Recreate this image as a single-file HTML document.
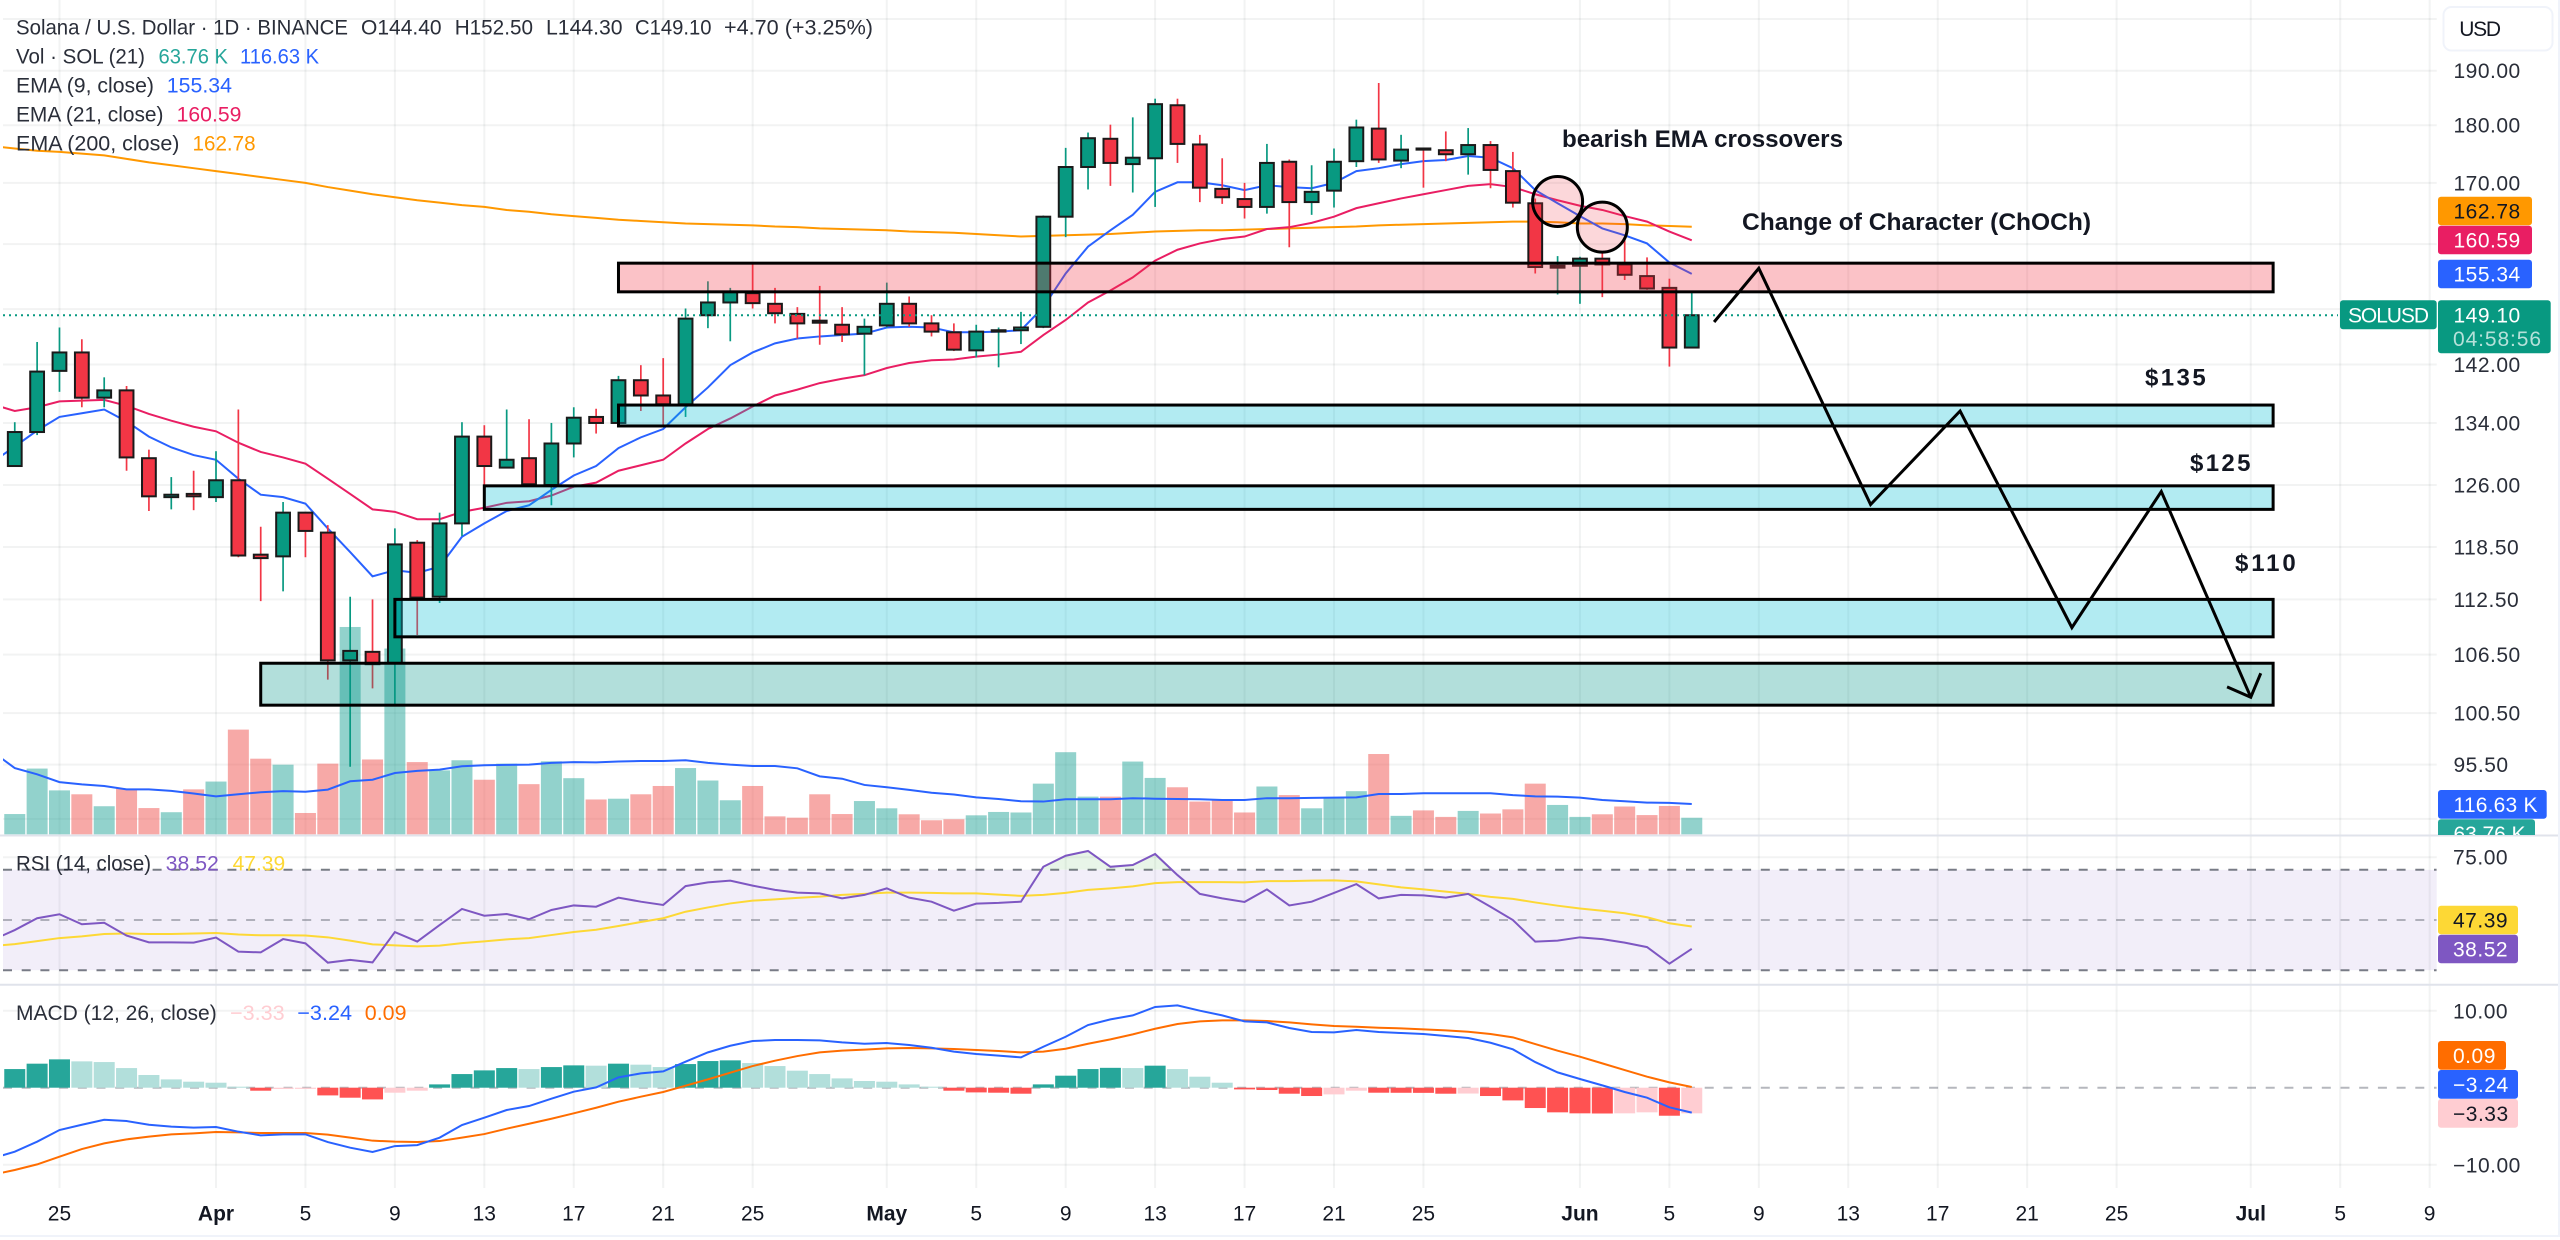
<!DOCTYPE html>
<html lang="en">
<head>
<meta charset="utf-8">
<title>Solana / U.S. Dollar chart</title>
<style>
html,body{margin:0;padding:0;background:#fff;width:2560px;height:1240px;overflow:hidden}
svg{display:block;font-family:"Liberation Sans",sans-serif}
.lg{font-size:21px;fill:#2a2e39}
.ax{font-size:21px;fill:#2a2e39;letter-spacing:.5px}
.anno{font-size:24px;font-weight:700;fill:#131722}
</style>
</head>
<body>
<svg id="chart" xmlns="http://www.w3.org/2000/svg" width="2560" height="1240" viewBox="0 0 2560 1240">
  <defs>
    <clipPath id="clip-main"><rect x="3" y="0" width="2433.7" height="835"/></clipPath>
    <clipPath id="clip-rsi"><rect x="3" y="836" width="2433.7" height="148"/></clipPath>
    <clipPath id="clip-rsi-ob"><rect x="3" y="836" width="2433.7" height="33.7"/></clipPath>
    <clipPath id="clip-macd"><rect x="3" y="985" width="2433.7" height="203"/></clipPath>
    <clipPath id="clip-badge"><rect x="2430" y="780" width="130" height="55"/></clipPath>
  </defs>
  <g id="grid"></g>
  <g id="rsi-band"></g>
  <g id="volume" clip-path="url(#clip-main)"></g>
  <g id="lines" clip-path="url(#clip-main)"></g>
  <g id="candles" clip-path="url(#clip-main)"></g>
  <line id="last-line" x1="3" x2="2338" stroke="#089981" stroke-width="2" stroke-dasharray="2 4"></line>
  <g id="drawings"></g>
  <g id="rsi-pane" clip-path="url(#clip-rsi)"></g>
  <g id="macd-pane" clip-path="url(#clip-macd)"></g>

  <text class="anno" x="1562" y="147" textLength="281" lengthAdjust="spacingAndGlyphs">bearish EMA crossovers</text>
  <text class="anno" x="1742" y="230" textLength="349" lengthAdjust="spacingAndGlyphs">Change of Character (ChOCh)</text>
  <text class="anno" x="2145" y="385.500" textLength="60.700">$135</text>
  <text class="anno" x="2190" y="471" textLength="60.500">$125</text>
  <text class="anno" x="2235" y="571" textLength="60.700">$110</text>

  <g>
    <text class="lg" x="16" y="34.500" textLength="332" lengthAdjust="spacingAndGlyphs">Solana / U.S. Dollar · 1D · BINANCE</text>
    <text class="lg" x="361" y="34.500" textLength="80.600" lengthAdjust="spacingAndGlyphs">O144.40</text>
    <text class="lg" x="454.700" y="34.500" textLength="78.300" lengthAdjust="spacingAndGlyphs">H152.50</text>
    <text class="lg" x="546" y="34.500" textLength="76.600" lengthAdjust="spacingAndGlyphs">L144.30</text>
    <text class="lg" x="635" y="34.500" textLength="76.500" lengthAdjust="spacingAndGlyphs">C149.10</text>
    <text class="lg" x="724" y="34.500" textLength="149" lengthAdjust="spacingAndGlyphs">+4.70 (+3.25%)</text>
    <text class="lg" x="16" y="63.500" textLength="129" lengthAdjust="spacingAndGlyphs">Vol · SOL (21)</text>
    <text class="lg" x="158.500" y="63.500" textLength="69.500" lengthAdjust="spacingAndGlyphs" style="fill:#26a69a">63.76 K</text>
    <text class="lg" x="240" y="63.500" textLength="79" lengthAdjust="spacingAndGlyphs" style="fill:#2962ff">116.63 K</text>
    <text class="lg" x="16" y="92.500" textLength="138" lengthAdjust="spacingAndGlyphs">EMA (9, close)</text>
    <text class="lg" x="166.800" y="92.500" textLength="65.200" lengthAdjust="spacingAndGlyphs" style="fill:#2962ff">155.34</text>
    <text class="lg" x="16" y="121.500" textLength="147.500" lengthAdjust="spacingAndGlyphs">EMA (21, close)</text>
    <text class="lg" x="176.600" y="121.500" textLength="64.800" lengthAdjust="spacingAndGlyphs" style="fill:#e91e63">160.59</text>
    <text class="lg" x="16" y="150.500" textLength="163.400" lengthAdjust="spacingAndGlyphs">EMA (200, close)</text>
    <text class="lg" x="192.500" y="150.500" textLength="63.100" lengthAdjust="spacingAndGlyphs" style="fill:#ff9800">162.78</text>
  </g>
  <g>
    <text class="lg" x="16" y="870.500" textLength="135" lengthAdjust="spacingAndGlyphs">RSI (14, close)</text>
    <text class="lg" x="165.700" y="870.500" textLength="53.200" lengthAdjust="spacingAndGlyphs" style="fill:#7e57c2">38.52</text>
    <text class="lg" x="232.600" y="870.500" textLength="52.600" lengthAdjust="spacingAndGlyphs" style="fill:#fdd835">47.39</text>
  </g>
  <g>
    <text class="lg" x="16" y="1020" textLength="200.700" lengthAdjust="spacingAndGlyphs">MACD (12, 26, close)</text>
    <text class="lg" x="230" y="1020" textLength="54.700" lengthAdjust="spacingAndGlyphs" style="fill:#ffcdd2">−3.33</text>
    <text class="lg" x="297.300" y="1020" textLength="54.700" lengthAdjust="spacingAndGlyphs" style="fill:#2962ff">−3.24</text>
    <text class="lg" x="364.800" y="1020" textLength="41.700" lengthAdjust="spacingAndGlyphs" style="fill:#ff6d00">0.09</text>
  </g>

  <g id="axis-labels"></g>

  <rect x="2443.500" y="7" width="109" height="43.500" rx="8" fill="#fff" stroke="#f0f3fa" stroke-width="2"></rect>
  <text x="2459.300" y="36" font-size="21" fill="#131722" textLength="41.700">USD</text>

  <g>
    <rect x="2438" y="196.700" width="94" height="28.600" rx="3" fill="#ff9800"></rect>
    <text class="ax" x="2453.500" y="218.500" style="fill:#131722">162.78</text>
    <rect x="2438" y="225.700" width="94" height="28.600" rx="3" fill="#e91e63"></rect>
    <text class="ax" x="2453.500" y="247.500" style="fill:#fff">160.59</text>
    <rect x="2438" y="259.700" width="94" height="28.600" rx="3" fill="#2962ff"></rect>
    <text class="ax" x="2453.500" y="281.500" style="fill:#fff">155.34</text>
    <rect x="2340" y="300.300" width="96.700" height="29" rx="3" fill="#089981"></rect>
    <text class="ax" x="2348" y="322.300" textLength="81" style="fill:#fff;letter-spacing:0">SOLUSD</text>
    <rect x="2438" y="300.300" width="112.700" height="53" rx="3" fill="#089981"></rect>
    <text class="ax" x="2453.500" y="322.300" style="fill:#fff">149.10</text>
    <text class="ax" x="2453" y="345.800" textLength="88" style="fill:#fff;fill-opacity:.7;letter-spacing:0">04:58:56</text>
    <rect x="2438" y="790" width="108.700" height="28.700" rx="3" fill="#2962ff"></rect>
    <text class="ax" x="2453.500" y="811.800" textLength="84" style="fill:#fff;letter-spacing:0">116.63 K</text>
    <g clip-path="url(#clip-badge)">
      <rect x="2438" y="819.300" width="97" height="28.700" rx="3" fill="#26a69a"></rect>
      <text class="ax" x="2453.500" y="841" textLength="72" style="fill:#fff;letter-spacing:0">63.76 K</text>
    </g>
    <rect x="2438" y="905.700" width="80" height="28.600" rx="3" fill="#fdd835"></rect>
    <text class="ax" x="2453" y="927.500" style="fill:#131722">47.39</text>
    <rect x="2438" y="934.700" width="80" height="28.600" rx="3" fill="#7e57c2"></rect>
    <text class="ax" x="2453" y="956.500" style="fill:#fff">38.52</text>
    <rect x="2438" y="1041" width="68" height="28.700" rx="3" fill="#ff6d00"></rect>
    <text class="ax" x="2453" y="1062.800" style="fill:#fff">0.09</text>
    <rect x="2438" y="1070" width="80" height="28.700" rx="3" fill="#2962ff"></rect>
    <text class="ax" x="2453" y="1091.800" style="fill:#fff">−3.24</text>
    <rect x="2438" y="1099" width="80" height="28.700" rx="3" fill="#ffcdd2"></rect>
    <text class="ax" x="2453" y="1120.800" style="fill:#131722">−3.33</text>
  </g>
</svg>
<script>
// ---- day offsets from 1 April; first candle is 23 March ----
var firstCandleDay = -9;
var firstLineDay = -10;

// ---- OHLC ----
var opens = [128.4,132.8,141.1,143.7,137.4,138.4,129.4,124.5,124.9,124.5,
126.6,117.6,117.4,122.6,120.2,105.9,106.8,105.6,119,112.8,
121.3,132.2,128.2,129.4,126,131.3,134.8,134,139.8,137.7,
136.5,149.1,151,152.4,150.8,149.3,148.3,147.7,146.4,147.6,
150.8,147.9,146.6,144,146.7,146.9,147.4,164.4,172.7,177.6,
173.2,174.2,183.6,176.6,169,167.3,166,173.6,166.8,168.7,
173.7,179.4,173.8,175.9,175.6,174.9,176.5,172,166.6,156.3,
156.6,157.7,156.8,155,153.2,144.4];
var highs = [134.1,145.2,147.3,145.6,140.2,139,130.5,127,127.8,130.3,
135.8,120.9,123.9,122.7,121.1,112.8,112.5,120.7,119.3,122.6,
134.1,133.7,135.8,134.5,134,136.1,135.9,140.4,141.9,142.9,
150.1,154.2,153.2,156.9,153.2,150.3,153.5,150.3,148.6,154,
151.9,149.1,147.9,147.7,147.3,149.6,164.6,176,178.7,180.1,
181.4,184.8,184.8,178.3,174.2,170,176.7,174,173,175.9,
181,187.7,178.3,176,178.9,179.5,177.2,175.3,167.4,158.1,
158,158.8,160.8,157.9,154.6,152.5];
var lows = [128.3,132.4,138.2,136.1,136.1,127.8,122.8,123,122.9,123.9,
117.3,112.3,113.4,117.3,103.9,95.3,103,101.4,108.6,112.1,
119.8,126,128.2,125.9,123.5,129.5,132.6,133.6,135.6,133.7,
134.8,147.2,145.3,150.1,147.9,145.7,144.8,145.2,140.5,147.3,
147.4,146,143.9,143,141.6,144.9,147.2,161.1,168.9,169.5,
168.4,166,173.4,166.8,166.5,164.1,164.9,159.5,164.7,165.9,
172.7,173.4,172.5,169.2,173.7,171.4,169.1,165.9,155.4,152.2,
150.8,151.8,154.4,152.9,141.7,144.3];
var closes = [132.8,141,143.7,137.4,138.4,129.5,124.6,124.8,124.6,126.6,
117.5,117.2,122.6,120.4,105.9,106.9,105.5,118.8,112.7,121.3,
132.2,128.4,129.2,126.1,131.3,134.7,134,139.8,137.7,136.5,
148.6,151,152.6,150.9,149.4,147.9,148,146.3,147.4,150.8,
147.9,146.7,144.1,146.7,146.9,147.3,164.4,172.7,177.7,173.4,
174.3,183.8,176.7,169.2,167.6,166,173.4,166.8,168.5,173.6,
179.6,174,175.7,175.7,174.9,176.5,172.2,166.7,156.4,156.6,
157.7,156.8,155.2,153.1,144.4,149.1];

// ---- EMAs ----
var ema9 = [128.9,130.9,133.0,134.8,135.3,135.8,134.2,132.2,130.8,129.8,129.2,
126.8,124.8,124.5,123.7,120.7,117.9,115.1,115.8,115.5,116.2,
119.7,121.3,122.8,123.5,125.4,127.2,128.4,130.7,132.1,133.2,
136.1,138.8,141.9,143.7,145,145.7,146,146.2,146.4,147.3,
147.4,147.3,146.6,146.6,146.7,146.9,150.3,155.4,159.6,162.2,
164.7,168.5,170.1,170.1,169.6,168.8,169.6,169.3,169.1,170,
172,172.5,173.2,173.7,173.9,174.6,174.3,172.5,168.8,166.6,
164.5,162.5,161.4,160.1,157.1,155.34];
var ema21 = [136.5,135.6,136.1,136.9,137,137.1,136.3,135.2,134.3,133.5,132.9,
131.4,130.2,129.5,128.7,126.8,124.9,123,122.7,121.8,121.8,
122.7,123.2,123.8,124,124.7,125.8,126.3,127.8,128.5,129.2,
131.3,133.2,134.6,136.2,137.7,138.5,139.4,140,140.5,141.5,
142.2,142.6,142.7,143.1,143.4,143.8,146.2,148.4,151,152.8,
154.8,157.4,159.1,160.1,160.8,161.2,162.4,162.7,163.4,164.4,
165.8,166.6,167.4,168.1,168.8,169.5,169.8,169.3,168.1,167.1,
166.2,165.5,164.5,163.6,162,160.59];
var ema200 = [176.3,175.9,175.5,175.3,175,174.7,174.1,173.5,173,172.5,172,
171.5,171,170.5,170,169.3,168.7,168.1,167.6,167.1,166.7,
166.3,166,165.5,165.2,164.8,164.5,164.2,163.9,163.7,163.5,
163.3,163.2,163.1,163,162.8,162.7,162.5,162.4,162.3,162.2,
162,161.9,161.8,161.6,161.4,161.2,161.3,161.4,161.5,161.6,
161.8,162,162.1,162.2,162.2,162.3,162.4,162.5,162.6,162.7,
162.8,163,163.1,163.2,163.3,163.4,163.5,163.6,163.6,163.5,
163.3,163.3,163.2,163,162.9,162.78];

// ---- Volume (thousands) ----
var volumes = [78,253,169,154,108,176,101,85,173,203,
403,291,268,82,272,798,288,715,278,246,
285,210,272,193,281,216,134,137,154,186,
255,207,131,186,69,64,154,78,128,100,
77,54,58,73,86,84,195,316,145,145,
280,217,181,126,132,84,184,151,100,141,
166,309,71,92,67,90,80,96,195,113,
67,77,107,74,109,63.76];
var volumeMa = [318,255,231,201,192,186,173,173,167,157,146,
154,162,166,164,172,204,210,236,244,249,
262,266,267,268,275,278,277,280,282,282,
285,275,268,263,263,254,223,214,190,181,
171,160,153,142,136,127,126,135,135,135,
139,137,136,135,132,132,139,139,140,141,
142,155,155,158,158,158,158,151,146,145,
141,132,127,122,121,116.63];

// ---- RSI ----
var rsiValues = [42.0,46.0,50.7,52.3,48.3,48.9,43.8,41.1,41.1,41.0,43.0,
37.4,37.1,42.4,40.7,33.0,34.1,33.1,45.2,41.4,48.0,
54.4,51.7,52.4,50.3,54.0,55.8,55.3,58.9,57.3,56.0,
63.5,65.0,65.7,63.7,62.0,60.9,60.6,58.6,60.0,62.6,
58.9,57.3,53.7,56.5,56.8,57.3,71.2,75.6,77.5,71.2,
71.9,76.3,67.9,60.4,58.6,57.2,62.2,55.8,57.3,60.8,
64.3,58.6,60.0,59.8,58.9,60.4,55.3,50.0,41.4,41.8,
43.1,42.4,41.0,39.2,32.6,38.52];
var rsiMa = [39.6,40.4,41.6,42.8,43.5,44.4,44.6,44.4,44.4,44.6,44.8,
44.2,43.9,43.9,43.8,43.1,41.8,40.3,39.9,39.5,39.8,
40.8,41.5,42.3,42.8,44.0,45.2,46.1,47.6,49.2,50.7,
53.3,55.0,56.6,57.7,58.2,58.8,59.3,60.0,60.4,60.9,
60.9,60.8,60.6,60.6,60.1,59.6,60.0,60.8,62.0,62.6,
63.4,64.7,65.1,65.1,65.1,65.0,65.5,65.5,65.7,65.8,
65.4,64.2,63.0,62.2,61.3,60.4,59.2,58.4,57.0,55.7,
54.6,53.7,52.7,51.1,48.7,47.39];

// ---- MACD ----
var macdLine = [-9.18,-8.31,-7.01,-5.5,-4.81,-4.16,-4.33,-4.81,-5.06,-5.19,-5.11,
-5.71,-6.19,-6.06,-6.06,-7.06,-7.79,-8.35,-7.58,-7.45,-6.49,
-4.85,-3.9,-2.9,-2.38,-1.43,-.52,.04,1.34,1.86,2.12,
3.38,4.59,5.45,6.06,6.19,6.19,6.15,5.89,5.71,5.8,
5.54,5.19,4.68,4.37,4.16,3.94,5.32,6.62,8.14,8.87,
9.39,10.48,10.69,10.0,9.39,8.61,8.48,7.75,7.23,7.19,
7.49,7.23,7.1,6.97,6.71,6.45,5.84,4.98,3.33,1.99,
1.13,.3,-.56,-1.3,-2.55,-3.24];
var macdSignal = [-11.3,-10.69,-9.96,-8.96,-7.97,-7.23,-6.71,-6.36,-6.06,-5.93,-5.76,
-5.8,-5.89,-5.89,-5.89,-6.1,-6.49,-6.88,-7.01,-7.06,-6.93,
-6.49,-6.02,-5.32,-4.68,-4.03,-3.33,-2.6,-1.82,-1.17,-.56,
.26,1.08,1.95,2.81,3.51,4.11,4.59,4.81,4.94,5.11,
5.15,5.11,5.02,4.89,4.76,4.59,4.68,5.06,5.71,6.28,
6.93,7.66,8.27,8.61,8.74,8.74,8.66,8.48,8.23,8.01,
7.92,7.79,7.71,7.58,7.45,7.27,6.97,6.54,5.67,4.81,
4.03,3.16,2.29,1.43,.69,.09];
var macdHist = [2.42,3.12,3.68,3.42,3.33,2.55,1.65,1.08,.78,.65,
.13,-.39,-.17,-.15,-1.0,-1.3,-1.52,-.65,-.39,.43,
1.77,2.25,2.55,2.42,2.68,2.9,2.86,3.12,2.99,2.68,
3.07,3.46,3.55,3.2,2.81,2.21,1.77,1.21,.87,.78,
.43,.13,-.39,-.61,-.65,-.78,.43,1.56,2.42,2.58,
2.55,2.86,2.42,1.43,.65,-.22,-.3,-.78,-1.08,-.87,
-.39,-.65,-.66,-.67,-.78,-.76,-1.08,-1.65,-2.64,-3.2,
-3.33,-3.35,-3.33,-3.2,-3.64,-3.33];

// ---- Ticks ----
var dayTicks = [-7,0,4,8,12,16,20,24,30,34,38,42,46,50,54,61,65,69,73,77,81,85,91,95,99];
var dayLabels = ['25','Apr','5','9','13','17','21','25','May','5','9','13','17','21','25','Jun','5','9','13','17','21','25','Jul','5','9'];
var priceGrid = [200,190,180,170,160,150,142,134,126,118.5,112.5,106.5,100.5,95.5,90.5];
var priceTicks = [190,180,170,142,134,126,118.5,112.5,106.5,100.5,95.5];
var rsiTicks = [75];
var macdTicks = [10,-10];
var lastPrice = 149.10;

// ---- Drawings in chart units: start day, end day, top price, bottom price ----
var zoneStarts = [18,18,12,8,2];
var zoneEnds = [92,92,92,92,92];
var zoneTops = [157.0,136.4,125.9,112.5,105.6];
var zoneBottoms = [152.6,133.6,123.0,108.4,101.3];
var zoneFills = ['rgba(242,54,69,.3)','rgba(0,188,212,.3)','rgba(0,188,212,.3)','rgba(0,188,212,.3)','rgba(0,150,136,.3)'];
var zoneNames = ['resistance-zone','support-zone-135','support-zone-125','support-zone-110','demand-zone-100'];
var pathDays = [67,69,74,78,83,87,91];
var pathPrices = [148.1,156.2,123.6,135.6,109.4,125.2,102.1];
var crossDays = [60,62];
var crossPrices = [166.9,162.7];

// ---- Axis functions ----
function xDay(d){return 216+22.36*d;}
function yPrice(p){return 70.7+1008.8*Math.log(190/p);}
function yVol(v){return 834.3-v/3.849;}
function yRsi(v){return 920-(v-50)*2.51;}
function yMacd(v){return 1087.7-v*7.7;}

var NS='http://www.w3.org/2000/svg';
function mk(tag,attrs,parent){
  var el=document.createElementNS(NS,tag);
  for(var k in attrs){el.setAttribute(k,attrs[k]);}
  parent.appendChild(el);
  return el;
}
function linePath(values,yFn){
  var d='';
  for(var i=0;i<values.length;i++){
    d+=(i?'L':'M')+xDay(firstLineDay+i).toFixed(2)+' '+yFn(values[i]).toFixed(2);
  }
  return d;
}

var gridG=document.getElementById('grid');
var GRID='rgba(42,46,57,.06)';
dayTicks.forEach(function(d){
  var l=mk('line',{x1:xDay(d),x2:xDay(d),y1:0,y2:1188,stroke:GRID,'stroke-width':2},gridG);
  
  
});
priceGrid.forEach(function(p){
  var l=mk('line',{x1:3,x2:2436.7,y1:yPrice(p),y2:yPrice(p),stroke:GRID,'stroke-width':2},gridG);
  
  
});
rsiTicks.forEach(function(v){
  var l=mk('line',{x1:3,x2:2436.7,y1:yRsi(v),y2:yRsi(v),stroke:GRID,'stroke-width':2},gridG);
  
  
});
macdTicks.forEach(function(v){
  var l=mk('line',{x1:3,x2:2436.7,y1:yMacd(v),y2:yMacd(v),stroke:GRID,'stroke-width':2},gridG);
  
  
});
[835.5,984.7].forEach(function(y){
  var l=mk('line',{x1:0,x2:2560,y1:y,y2:y,stroke:'#e0e3eb','stroke-width':2},gridG);
  
  
});
var frameB=mk('line',{x1:0,x2:2560,y1:1236,y2:1236,stroke:'#f0f3fa','stroke-width':2},gridG);


var frameR=mk('line',{x1:2559,x2:2559,y1:0,y2:1236,stroke:'#f0f3fa','stroke-width':2},gridG);



// RSI band
var bandG=document.getElementById('rsi-band');
var band=mk('rect',{x:3,y:yRsi(70),width:2433.7,height:yRsi(30)-yRsi(70),fill:'rgba(126,87,194,.1)'},bandG);



// Volume
var volG=document.getElementById('volume');
volumes.forEach(function(v,i){
  var d=firstCandleDay+i;
  var up=closes[i]>=opens[i];
  var r=mk('rect',{x:xDay(d)-10.5,y:yVol(v),width:21,height:834.3-yVol(v),fill:up?'rgba(38,166,154,.5)':'rgba(239,83,80,.5)'},volG);
  
  
});

// Overlays beneath the candles
var linesG=document.getElementById('lines');
var volMaLine=mk('path',{d:linePath(volumeMa,yVol),fill:'none',stroke:'#2962ff','stroke-width':2},linesG);


var ema200Line=mk('path',{d:linePath(ema200,yPrice),fill:'none',stroke:'#ff9800','stroke-width':2},linesG);


var ema21Line=mk('path',{d:linePath(ema21,yPrice),fill:'none',stroke:'#e91e63','stroke-width':2},linesG);


var ema9Line=mk('path',{d:linePath(ema9,yPrice),fill:'none',stroke:'#2962ff','stroke-width':2},linesG);



// Candles
var cG=document.getElementById('candles');
opens.forEach(function(o,i){
  var d=firstCandleDay+i, c=closes[i], up=c>=o, col=up?'#089981':'#f23645', x=xDay(d);
  var wick=mk('line',{x1:x,x2:x,y1:yPrice(highs[i]),y2:yPrice(lows[i]),stroke:col,'stroke-width':1.7},cG);
  
  
  var top=yPrice(Math.max(o,c)), bot=yPrice(Math.min(o,c));
  var body=mk('rect',{x:x-6.9,y:top,width:13.8,height:Math.max(bot-top,.5),fill:col,stroke:'#1a1a1a','stroke-width':2},cG);
  
  
});

var lastLine=document.getElementById('last-line');
lastLine.setAttribute('y1',yPrice(lastPrice));
lastLine.setAttribute('y2',yPrice(lastPrice));

// Drawings
var drawG=document.getElementById('drawings');
zoneStarts.forEach(function(s,i){
  var y1=yPrice(zoneTops[i]), y2=yPrice(zoneBottoms[i]);
  var r=mk('rect',{x:xDay(s),y:y1,width:xDay(zoneEnds[i])-xDay(s),height:y2-y1,fill:zoneFills[i],stroke:'#000','stroke-width':3},drawG);
  
  
});
crossDays.forEach(function(d,i){
  var c=mk('ellipse',{cx:xDay(d),cy:yPrice(crossPrices[i]),rx:25,ry:25,fill:'rgba(242,54,69,.2)',stroke:'#000','stroke-width':3},drawG);
  
  
});
var pts=pathDays.map(function(d,i){return xDay(d).toFixed(1)+','+yPrice(pathPrices[i]).toFixed(1);}).join(' ');
var arrow=mk('polyline',{points:pts,fill:'none',stroke:'#000','stroke-width':3,'stroke-linejoin':'miter'},drawG);


var tipX=xDay(pathDays[pathDays.length-1]), tipY=yPrice(pathPrices[pathPrices.length-1]);
var head=mk('polyline',{points:(tipX-23.7)+','+(tipY-10.3)+' '+tipX+','+tipY+' '+(tipX+10)+','+(tipY-24),fill:'none',stroke:'#000','stroke-width':3},drawG);



// RSI pane
var rsiG=document.getElementById('rsi-pane');
[[70,'#787b86',1],[50,'#787b86',.55],[30,'#787b86',1]].forEach(function(b){
  var l=mk('line',{x1:3,x2:2436.7,y1:yRsi(b[0]),y2:yRsi(b[0]),stroke:b[1],'stroke-opacity':b[2],'stroke-width':2,'stroke-dasharray':'9 9.7'},rsiG);
  
  
});
var obD=linePath(rsiValues,yRsi)+'L'+xDay(firstLineDay+rsiValues.length-1)+' '+yRsi(70)+'L'+xDay(firstLineDay)+' '+yRsi(70)+'Z';
var ob=mk('path',{d:obD,fill:'rgba(76,175,80,.13)','clip-path':'url(#clip-rsi-ob)'},rsiG);


var rsiMaLine=mk('path',{d:linePath(rsiMa,yRsi),fill:'none',stroke:'#fdd835','stroke-width':2},rsiG);


var rsiLine=mk('path',{d:linePath(rsiValues,yRsi),fill:'none',stroke:'#7e57c2','stroke-width':2},rsiG);



// MACD pane
var mG=document.getElementById('macd-pane');
var zero=mk('line',{x1:3,x2:2436.7,y1:yMacd(0),y2:yMacd(0),stroke:'#787b86','stroke-opacity':.55,'stroke-width':2,'stroke-dasharray':'9 9.7'},mG);


macdHist.forEach(function(v,i){
  var d=firstCandleDay+i;
  var rising=i===0||v>macdHist[i-1];
  var col=v>=0?(rising?'#26a69a':'#b2dfdb'):(rising?'#ffcdd2':'#ff5252');
  var y1=Math.min(yMacd(v),yMacd(0)), y2=Math.max(yMacd(v),yMacd(0));
  var r=mk('rect',{x:xDay(d)-10.5,y:y1,width:21,height:y2-y1,fill:col},mG);
  
  
});
var sigLine=mk('path',{d:linePath(macdSignal,yMacd),fill:'none',stroke:'#ff6d00','stroke-width':2},mG);


var macLine=mk('path',{d:linePath(macdLine,yMacd),fill:'none',stroke:'#2962ff','stroke-width':2},mG);



// Axis labels
var axG=document.getElementById('axis-labels');
function fmtTick(v){return (v<0?'\u2212':'')+Math.abs(v).toFixed(2);}
priceTicks.forEach(function(p){
  var t=mk('text',{x:2453.5,y:yPrice(p)+7.4,'class':'ax'},axG);
  
  
  t.textContent=fmtTick(p);
});
rsiTicks.forEach(function(v){
  var t=mk('text',{x:2453,y:yRsi(v)+7.4,'class':'ax'},axG);
  
  
  t.textContent=fmtTick(v);
});
macdTicks.forEach(function(v){
  var t=mk('text',{x:2453,y:yMacd(v)+7.8,'class':'ax'},axG);
  
  
  t.textContent=fmtTick(v);
});
dayTicks.forEach(function(d,i){
  var isMonth=/[A-Za-z]/.test(dayLabels[i]);
  var t=mk('text',{x:xDay(d),y:1220.5,'text-anchor':'middle','font-size':21,'font-weight':isMonth?700:400,fill:'#131722'},axG);
  
  
  t.textContent=dayLabels[i];
});
</script>
</body>
</html>
